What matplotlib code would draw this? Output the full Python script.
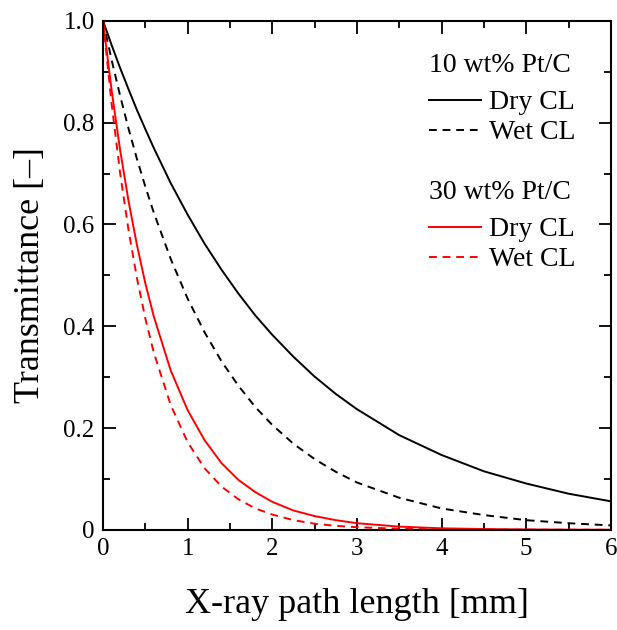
import matplotlib
matplotlib.use('Agg')
import matplotlib.pyplot as plt
from matplotlib.ticker import MultipleLocator

plt.rcParams['font.family'] = ['Liberation Serif', 'DejaVu Serif']

# path length [mm]
length = [0, 0.1, 0.2, 0.3, 0.4, 0.5, 0.6, 0.8, 1.0, 1.2, 1.4, 1.6, 1.8, 2.0,
          2.25, 2.5, 2.75, 3.0, 3.5, 4.0, 4.5, 5.0, 5.5, 6.0]

# 10 wt% Pt/C
dry_10 = [1.0, 0.953, 0.908, 0.866, 0.825, 0.787, 0.750, 0.681, 0.619, 0.562,
          0.511, 0.464, 0.421, 0.383, 0.340, 0.301, 0.267, 0.237, 0.186, 0.147,
          0.115, 0.091, 0.071, 0.056]
wet_10 = [1.0, 0.924, 0.854, 0.789, 0.729, 0.674, 0.623, 0.532, 0.454, 0.388,
          0.331, 0.283, 0.241, 0.206, 0.169, 0.139, 0.114, 0.093, 0.063, 0.042,
          0.029, 0.019, 0.013, 0.0087]

# 30 wt% Pt/C
dry_30 = [1.0, 0.865, 0.748, 0.647, 0.560, 0.484, 0.419, 0.313, 0.235, 0.176,
          0.131, 0.098, 0.074, 0.055, 0.038, 0.027, 0.019, 0.013, 0.0063, 0.0030,
          0.0015, 0.0007, 0.0003, 0.0002]
wet_30 = [1.0, 0.839, 0.703, 0.590, 0.495, 0.415, 0.348, 0.245, 0.172, 0.121,
          0.085, 0.060, 0.042, 0.030, 0.019, 0.012, 0.0079, 0.0051, 0.0021, 0.0009,
          0.0004, 0.0002, 0.0001, 0.0]

fig = plt.figure(figsize=(6.17, 6.30), dpi=100)
ax = fig.add_axes([0.167, 0.159, 0.823, 0.808])

dash = (0, (4, 3))
ax.plot(length, dry_10, color='black', lw=1.4)
ax.plot(length, wet_10, color='black', lw=1.4, ls=dash)
ax.plot(length, dry_30, color='red', lw=1.4)
ax.plot(length, wet_30, color='red', lw=1.4, ls=dash)

ax.set_xlim(0, 6)
ax.set_ylim(0, 1.0)
ax.xaxis.set_major_locator(MultipleLocator(1))
ax.xaxis.set_minor_locator(MultipleLocator(0.5))
ax.yaxis.set_major_locator(MultipleLocator(0.2))
ax.yaxis.set_minor_locator(MultipleLocator(0.1))
ax.yaxis.set_major_formatter(plt.FuncFormatter(lambda v, p: '0' if v == 0 else '%.1f' % v))
ax.tick_params(which='both', direction='in', top=True, right=True, labelsize=18, width=1.3)
ax.tick_params(which='major', length=9, pad=6)
ax.tick_params(which='minor', length=5)
for s in ax.spines.values():
    s.set_linewidth(1.5)

ax.set_xlabel('X-ray path length [mm]', fontsize=26, labelpad=20)
ax.set_ylabel('Transmittance [\u2013]', fontsize=26, labelpad=12)

# hand-made legend (axes fractions)
groups = [('10 wt% Pt/C', 'black', 0.912, 0.845, 0.786),
          ('30 wt% Pt/C', 'red', 0.662, 0.595, 0.536)]
for title, col, yt, yd, yw in groups:
    ax.text(0.642, yt, title, transform=ax.transAxes, fontsize=20, va='center', ha='left')
    for yy, ls, name in [(yd, '-', 'Dry CL'), (yw, dash, 'Wet CL')]:
        ax.plot([0.642, 0.744], [yy, yy], transform=ax.transAxes, color=col, lw=1.4, ls=ls)
        ax.text(0.760, yy, name, transform=ax.transAxes, fontsize=20,
                va='center_baseline', ha='left')

fig.savefig('out.png', dpi=100)
